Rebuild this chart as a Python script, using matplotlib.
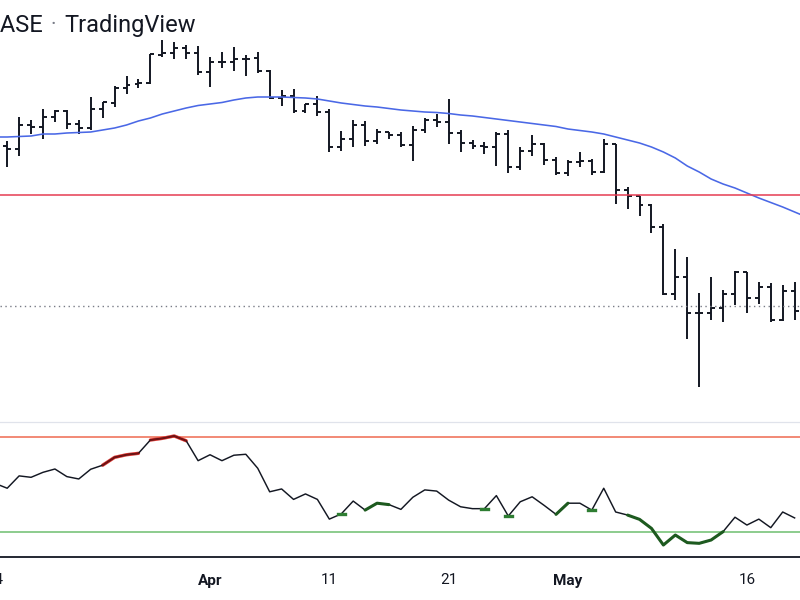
import matplotlib
matplotlib.use('Agg')
import matplotlib.pyplot as plt
import matplotlib.dates as mdates
from matplotlib.collections import LineCollection
from matplotlib.transforms import blended_transform_factory
import numpy as np
import pandas as pd

# ---------------- data ----------------
first_bar_date = '2022-03-15'   # daily bars
opens = [41628, 41442, 42930, 42806, 43426, 43798, 42992, 42744, 43922, 44294,
         45224, 45472, 45534, 47270, 47394, 47704, 47394, 46216, 46836, 46836,
         47022, 47084, 46278, 44604, 44728, 43798, 44232, 43736, 41566, 42062,
         42930, 41938, 42496, 42310, 41690, 42620, 43240, 43116, 42434, 41814,
         41628, 41566, 42372, 40326, 41318, 41752, 40760, 39954, 40636, 40698,
         40016, 41752, 38900, 38528, 37970, 36606, 32452, 33506, 31274, 31274,
         31584, 32452, 33816, 32204, 32886, 30840, 32638]
highs = [41938, 43426, 43240, 43922, 43860, 43860, 43240, 44666, 44356, 45348,
         45968, 45782, 47332, 48200, 48076, 47890, 47828, 47146, 47456, 47766,
         47270, 47456, 46340, 45100, 45162, 44232, 44728, 43922, 42558, 43240,
         43178, 42682, 42496, 42496, 42868, 43364, 43612, 44542, 42620, 42000,
         41876, 42496, 42620, 41566, 42310, 41814, 40946, 40760, 41256, 40822,
         42062, 41752, 39086, 38528, 38032, 36792, 35242, 34746, 32514, 33506,
         32700, 33878, 33816, 33196, 33134, 33010, 33196]
lows = [40326, 41008, 42372, 42062, 43116, 42682, 42372, 42620, 43364, 44046,
        44852, 45224, 45472, 47146, 47022, 47022, 46030, 45286, 46464, 46278,
        45968, 46154, 44542, 44108, 43674, 43674, 43488, 41256, 41318, 41566,
        41628, 41752, 42062, 41566, 40698, 42434, 42806, 41752, 41256, 41442,
        41132, 40388, 39954, 40140, 41008, 40450, 39830, 39768, 40326, 39830,
        39954, 38032, 37722, 37288, 36234, 32390, 32080, 29662, 26686, 30840,
        30716, 31770, 31274, 31832, 30716, 30778, 30840]
closes = [41442, 42930, 42806, 43426, 43798, 42992, 42744, 43922, 44356, 45224,
          45410, 45534, 47332, 47394, 47704, 47394, 46216, 46836, 46836, 47022,
          47022, 46278, 44604, 44728, 43798, 44232, 43736, 41566, 42062, 42930,
          41938, 42496, 42310, 41690, 42620, 43240, 43116, 42434, 41814, 41628,
          41566, 42372, 40326, 41318, 41752, 40760, 39954, 40636, 40698, 40016,
          41752, 38900, 38528, 37970, 36606, 32452, 33506, 31274, 31274, 31584,
          32452, 33816, 32204, 32886, 30840, 32638, 31398]

# moving average, from 2022-03-14 to 2022-05-21
ma_first_date = '2022-03-14'
ma_values = [42186, 42186, 42217, 42248, 42372, 42372, 42434, 42465, 42496, 42620,
             42744, 42930, 43178, 43364, 43612, 43798, 43984, 44139, 44232, 44325,
             44480, 44604, 44666, 44666, 44666, 44635, 44604, 44542, 44418, 44294,
             44201, 44108, 44046, 43953, 43860, 43798, 43736, 43705, 43643, 43550,
             43488, 43395, 43302, 43209, 43116, 43023, 42930, 42837, 42682, 42589,
             42496, 42372, 42186, 42000, 41814, 41566, 41256, 40884, 40388, 40016,
             39582, 39272, 39024, 38714, 38404, 38125, 37846, 37536, 37226]

resistance_level = 38590
last_price_level = 31710

# RSI, from 2022-03-14 to 2022-05-20
rsi_first_date = '2022-03-14'
rsi_values = [50.3, 48.3, 53.5, 52.9, 55.0, 56.4, 53.2, 52.2, 56.3, 58.0,
              61.3, 62.4, 63.0, 68.6, 69.3, 70.3, 68.3, 59.9, 62.4, 59.9,
              62.2, 62.6, 56.7, 46.8, 48.0, 43.6, 45.9, 43.6, 35.3, 37.5,
              42.9, 39.1, 42.0, 41.4, 39.4, 44.5, 47.6, 47.1, 43.3, 40.5,
              39.7, 39.7, 45.2, 36.6, 42.6, 44.7, 41.1, 37.3, 42.0, 42.0,
              39.1, 48.3, 38.3, 37.0, 35.2, 31.4, 24.4, 28.6, 25.4, 25.1,
              26.5, 30.0, 36.1, 32.8, 35.3, 31.7, 38.3, 35.8]
rsi_upper = 70
rsi_lower = 30
# highlighted stretches (bar indices counted from first_bar_date)
red_segments = [(8, 11), (12, 15)]
green_segments = [(30, 32), (46, 47), (52, 60)]
green_points = [28, 40, 42, 49]

tick_dates = ['2022-03-14', '2022-04-01', '2022-04-11', '2022-04-21', '2022-05-01', '2022-05-16']
tick_labels = ['14', 'Apr', '11', '21', 'May', '16']
tick_bold = [False, True, False, False, True, False]

title_left = 'COINBASE'
title_right = 'TradingView'

# ---------------- drawing ----------------
W, H = 800, 600
fig = plt.figure(figsize=(8, 6), dpi=100)
fig.patch.set_facecolor('white')

def fy(py):
    return 1 - py / H

ax = fig.add_axes([0, fy(421.5), 1, 421.5 / H])
ax2 = fig.add_axes([0, fy(557), 1, (557 - 421.5) / H])

bar_x = mdates.date2num(pd.date_range(first_bar_date, periods=len(opens)))
ma_x = mdates.date2num(pd.date_range(ma_first_date, periods=len(ma_values)))
rsi_x = mdates.date2num(pd.date_range(rsi_first_date, periods=len(rsi_values)))
x0 = bar_x[0]
xlim = (x0 - 0.6035, x0 + 66.45)

# OHLC bars
tick = 0.33
segs = []
for x, o, h, l, c in zip(bar_x, opens, highs, lows, closes):
    segs.append([(x, l), (x, h)])
    segs.append([(x - tick, o), (x, o)])
    segs.append([(x, c), (x + tick, c)])
ax.add_collection(LineCollection(segs, colors='#131722', linewidths=1.4, capstyle='butt'))

ax.plot(ma_x, ma_values, color='#4A68E6', lw=1.15, solid_capstyle='round')
ax.axhline(resistance_level, color='#E63C52', lw=1.1)
ax.axhline(last_price_level, color='#787B86', lw=1.0, ls=(0, (1, 2.5)))

ax.set_xlim(*xlim)
ax.set_ylim(24547, 50680)
ax.axis('off')

# RSI panel
ax2.axhline(rsi_upper, color='#EF6A50', lw=1.1)
ax2.axhline(rsi_lower, color='#6DBE6F', lw=1.1)
rsi_arr = np.array(rsi_values)
for a, b in red_segments:
    ax2.plot(rsi_x[a + 1:b + 2], rsi_arr[a + 1:b + 2], color='#D8342F', lw=2.4,
             solid_capstyle='round', zorder=3)
ax2.plot(rsi_x, rsi_values, color='#131722', lw=1.05, zorder=4)
for a, b in red_segments:
    ax2.plot(rsi_x[a + 1:b + 2], rsi_arr[a + 1:b + 2], color='#7A1010', lw=1.0,
             zorder=5)
for a, b in green_segments:
    ax2.plot(rsi_x[a + 1:b + 2], rsi_arr[a + 1:b + 2], color='#1D5A1F', lw=2.2,
             solid_capstyle='round', zorder=5)
for p in green_points:
    xc = rsi_x[p + 1]
    v = rsi_arr[p + 1]
    ax2.plot([xc - 0.3, xc + 0.3], [v, v], color='#2E7D32', lw=2.4, zorder=5)

ax2.set_xlim(*xlim)
ax2.set_ylim(30 - (557 - 531.7) / 2.375, 70 + (436.7 - 421.5) / 2.375)
for s in ['left', 'right']:
    ax2.spines[s].set_visible(False)
ax2.spines['top'].set_color('#E0E3EB')
ax2.spines['top'].set_linewidth(0.9)
ax2.spines['bottom'].set_color('#131722')
ax2.spines['bottom'].set_linewidth(1.3)
ax2.set_xticks([])
ax2.set_yticks([])
ax2.set_facecolor('none')

trans = blended_transform_factory(ax2.transData, fig.transFigure)
for d, lab, b in zip(tick_dates, tick_labels, tick_bold):
    ax2.text(mdates.date2num(pd.Timestamp(d)), fy(584.5), lab, transform=trans,
             ha='center', va='baseline', fontsize=11, family='Roboto',
             fontweight='bold' if b else 'normal', color='#131722', clip_on=False)

# header
fig.text(43 / W, fy(31.7), title_left, ha='right', va='baseline', fontsize=17,
         family='Roboto', color='#131722')
fig.text(53 / W, fy(24), '·', ha='center', va='center', fontsize=15,
         family='Roboto', color='#787B86')
fig.text(64 / W, fy(31.7), title_right, ha='left', va='baseline', fontsize=17,
         family='Roboto', color='#131722')

fig.savefig('out.png', dpi=100)
